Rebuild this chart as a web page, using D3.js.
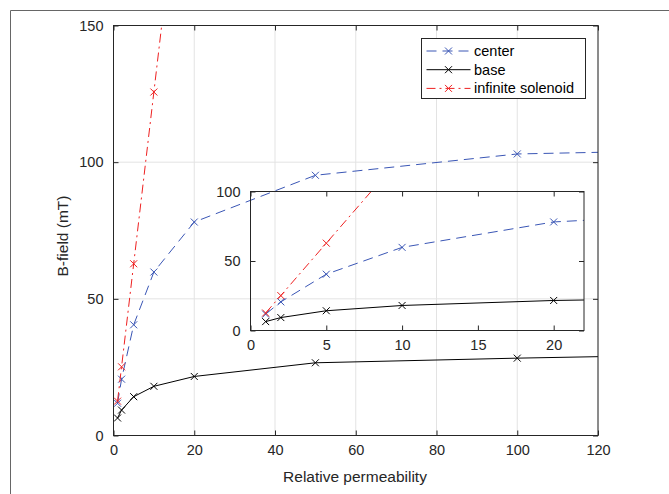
<!DOCTYPE html>
<html>
<head>
<meta charset="utf-8">
<style>
  body { margin: 0; background: #fff; }
  svg { display: block; font-family: "Liberation Sans", Arial, sans-serif; }
</style>
</head>
<body>
<svg width="669" height="494"></svg>
<script src="https://d3js.org/d3.v7.min.js"></script>
<script>
// relative permeability values and the fields
var mu = [1, 2, 5, 10, 20, 50, 100, 200];
var center = [11.8, 20.6, 40.5, 59.8, 78.1, 95.2, 103.0, 106.0];
var base = [6.4, 9.3, 14.2, 18.0, 21.6, 26.6, 28.3, 31.0];
var muInf = [1, 2, 5, 10, 20];
var infSol = [12.57, 25.13, 62.83, 125.66, 251.33];

var xTicks = [0, 20, 40, 60, 80, 100, 120];
var yTicks = [0, 50, 100, 150];
var insetXTicks = [0, 5, 10, 15, 20];
var insetYTicks = [0, 50, 100];

var series = [
  {name: "center", x: mu, y: center, color: "#3a56b5", dash: "10,6"},
  {name: "base", x: mu, y: base, color: "#000000", dash: null},
  {name: "infinite solenoid", x: muInf, y: infSol, color: "#ee2020", dash: "9,4,2,4"}
];

var svg = d3.select("svg");
var axisColor = "#262626";

// figure frame
svg.append("path")
  .attr("d", "M10.5,494V10.5H669")
  .attr("fill", "none").attr("stroke", "#666").attr("stroke-width", 1);

function panel(opts) {
  var x = d3.scaleLinear().domain(opts.xd).range(opts.xr);
  var y = d3.scaleLinear().domain(opts.yd).range(opts.yr);
  var g = svg.append("g");
  var w = opts.xr[1] - opts.xr[0], h = opts.yr[0] - opts.yr[1];

  if (opts.grid) {
    g.selectAll(".gx").data(opts.xt).enter().append("line")
      .attr("x1", d => x(d)).attr("x2", d => x(d))
      .attr("y1", opts.yr[0]).attr("y2", opts.yr[1])
      .attr("stroke", "#e3e3e3").attr("stroke-width", 1);
    g.selectAll(".gy").data(opts.yt).enter().append("line")
      .attr("y1", d => y(d)).attr("y2", d => y(d))
      .attr("x1", opts.xr[0]).attr("x2", opts.xr[1])
      .attr("stroke", "#e3e3e3").attr("stroke-width", 1);
  }

  var clipId = "clip" + opts.id;
  svg.append("clipPath").attr("id", clipId).append("rect")
    .attr("x", opts.xr[0]).attr("y", opts.yr[1]).attr("width", w).attr("height", h);

  var data = g.append("g").attr("clip-path", "url(#" + clipId + ")");
  var line = d3.line().x(d => x(d[0])).y(d => y(d[1]));
  series.forEach(function(s) {
    var pts = s.x.map((v, i) => [v, s.y[i]]);
    data.append("path").datum(pts)
      .attr("d", line).attr("fill", "none")
      .attr("stroke", s.color).attr("stroke-width", 1)
      .attr("stroke-dasharray", s.dash);
    data.selectAll(null).data(pts).enter().append("path")
      .attr("d", d => {
        var cx = x(d[0]), cy = y(d[1]), r = 3.5;
        return "M" + (cx - r) + "," + (cy - r) + "L" + (cx + r) + "," + (cy + r) +
               "M" + (cx - r) + "," + (cy + r) + "L" + (cx + r) + "," + (cy - r);
      })
      .attr("stroke", s.color).attr("stroke-width", 1).attr("fill", "none");
  });

  // axes with inward ticks on all four sides
  var ax = [
    [d3.axisBottom(x).tickValues(opts.xt).tickSize(-5).tickPadding(9), "translate(0," + opts.yr[0] + ")", true],
    [d3.axisTop(x).tickValues(opts.xt).tickSize(-5), "translate(0," + opts.yr[1] + ")", false],
    [d3.axisLeft(y).tickValues(opts.yt).tickSize(-5).tickPadding(10), "translate(" + opts.xr[0] + ",0)", true],
    [d3.axisRight(y).tickValues(opts.yt).tickSize(-5), "translate(" + opts.xr[1] + ",0)", false]
  ];
  ax.forEach(function(a) {
    var ag = g.append("g").attr("transform", a[1]).call(a[0]);
    ag.select(".domain").remove();
    ag.selectAll("line").attr("stroke", axisColor);
    ag.selectAll("text").attr("fill", axisColor).style("font-size", "14.5px")
      .style("font-family", "'Liberation Sans', Arial, sans-serif");
    if (!a[2]) ag.selectAll("text").remove();
  });

  g.append("rect")
    .attr("x", opts.xr[0]).attr("y", opts.yr[1]).attr("width", w).attr("height", h)
    .attr("fill", "none").attr("stroke", axisColor).attr("stroke-width", 1);
  return g;
}

panel({id: "main", xd: [0, 120], yd: [0, 150], xr: [113.5, 598], yr: [435.5, 25.5],
       xt: xTicks, yt: yTicks, grid: true});

panel({id: "inset", xd: [0, 22], yd: [0, 100], xr: [250.5, 584], yr: [330.5, 191.5],
       xt: insetXTicks, yt: insetYTicks, grid: false});

// axis labels
svg.append("text")
  .attr("x", 355).attr("y", 482)
  .attr("text-anchor", "middle").attr("fill", axisColor)
  .style("font-size", "15.5px")
  .text("Relative permeability");
svg.append("text")
  .attr("transform", "translate(68,236) rotate(-90)")
  .attr("text-anchor", "middle").attr("fill", axisColor)
  .style("font-size", "15.5px")
  .text("B-field (mT)");

// legend
var lg = svg.append("g");
lg.append("rect")
  .attr("x", 421.5).attr("y", 38.5).attr("width", 164).attr("height", 60)
  .attr("fill", "#fff").attr("stroke", axisColor).attr("stroke-width", 1);
series.forEach(function(s, i) {
  var cy = 51 + i * 18.7;
  lg.append("line")
    .attr("x1", 426.5).attr("x2", 470.5).attr("y1", cy).attr("y2", cy)
    .attr("stroke", s.color).attr("stroke-width", 1)
    .attr("stroke-dasharray", s.dash);
  var cx = 448.5, r = 3.5;
  lg.append("path")
    .attr("d", "M" + (cx - r) + "," + (cy - r) + "L" + (cx + r) + "," + (cy + r) +
               "M" + (cx - r) + "," + (cy + r) + "L" + (cx + r) + "," + (cy - r))
    .attr("stroke", s.color).attr("stroke-width", 1);
  lg.append("text")
    .attr("x", 474).attr("y", cy).attr("dy", "0.35em")
    .attr("fill", "#000").style("font-size", "14.5px")
    .text(s.name);
});
</script>
</body>
</html>
